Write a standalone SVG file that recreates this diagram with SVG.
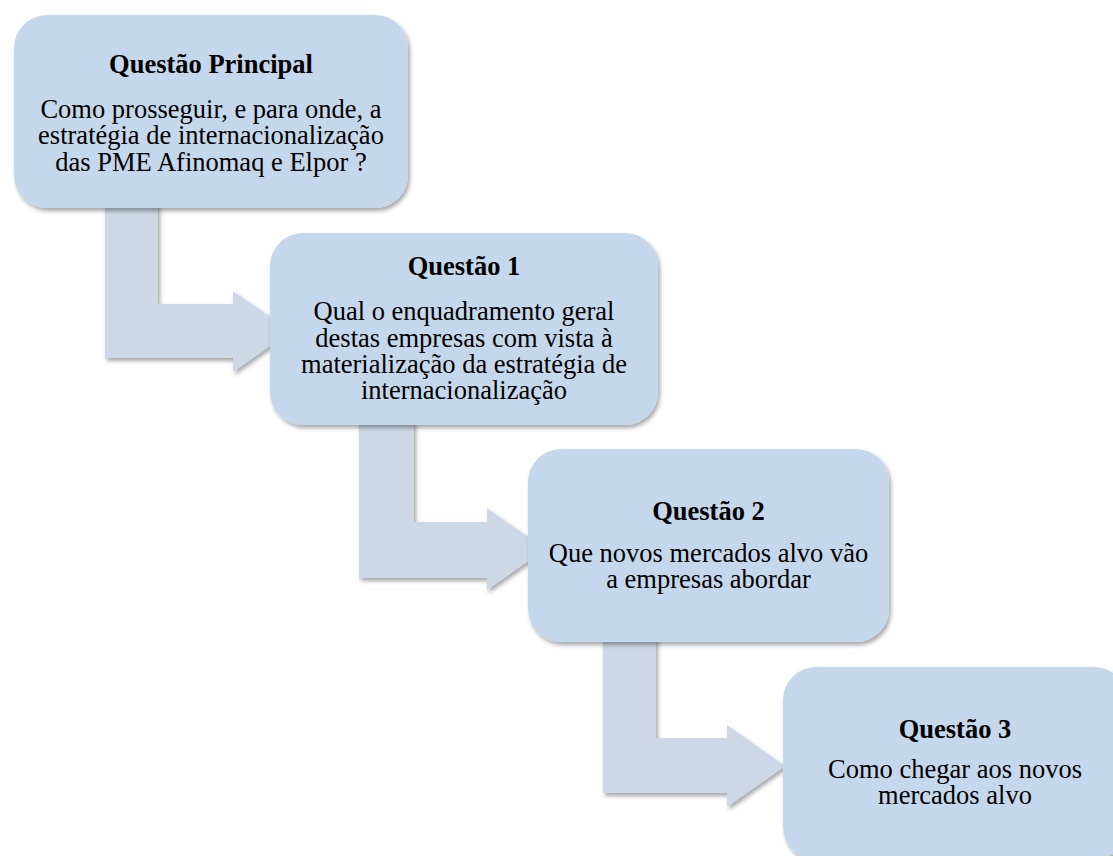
<svg xmlns="http://www.w3.org/2000/svg" width="1113" height="856" viewBox="0 0 1113 856">
  <defs>
    <filter id="sh" x="-10%" y="-10%" width="125%" height="130%">
      <feDropShadow dx="2" dy="3" stdDeviation="2.2" flood-color="#000" flood-opacity="0.35"/>
    </filter>
    <style>
      .box { fill: #C5D8EB; filter: url(#sh); }
      .arr { fill: #CDD7E6; filter: url(#sh); }
      text { font-family: "Liberation Serif", "Times New Roman", serif; fill: #000; text-anchor: middle; font-size: 26.5px; }
      .t { font-weight: bold; }
    </style>
  </defs>
  <rect width="1113" height="856" fill="#FFFFFF"/>
  <g id="connectors">
    <path class="arr" d="M105,200 L158,200 L158,304 L233,304 L233,291 L291,331 L233,372 L233,358 L105,358 Z"/>
    <path class="arr" d="M359,415 L414,415 L414,522 L487,522 L487,508 L545,549 L487,590 L487,578 L359,578 Z"/>
    <path class="arr" d="M603,632 L656,632 L656,738 L727,738 L727,725 L785,766 L727,807 L727,793 L603,793 Z"/>
  </g>
  <g id="node-principal">
    <rect class="box" x="14" y="15" width="394" height="193" rx="33" ry="33"/>
    <text class="t" x="211" y="73">Questão Principal</text>
    <text x="211" y="118">Como prosseguir, e para onde, a</text>
    <text x="211" y="144">estratégia de internacionalização</text>
    <text x="211" y="171">das PME Afinomaq e Elpor ?</text>
  </g>
  <g id="node-q1">
    <rect class="box" x="270" y="233" width="388" height="192" rx="33" ry="33"/>
    <text class="t" x="464" y="275">Questão 1</text>
    <text x="464" y="320">Qual o enquadramento geral</text>
    <text x="464" y="346.5">destas empresas com vista à</text>
    <text x="464" y="373">materialização da estratégia de</text>
    <text x="464" y="399">internacionalização</text>
  </g>
  <g id="node-q2">
    <rect class="box" x="528" y="449" width="361" height="193" rx="33" ry="33"/>
    <text class="t" x="708.5" y="520">Questão 2</text>
    <text x="708.5" y="562">Que novos mercados alvo vão</text>
    <text x="708.5" y="588">a empresas abordar</text>
  </g>
  <g id="node-q3">
    <rect class="box" x="783" y="667" width="344" height="193" rx="33" ry="33"/>
    <text class="t" x="955" y="738">Questão 3</text>
    <text x="955" y="778">Como chegar aos novos</text>
    <text x="955" y="804">mercados alvo</text>
  </g>
</svg>
